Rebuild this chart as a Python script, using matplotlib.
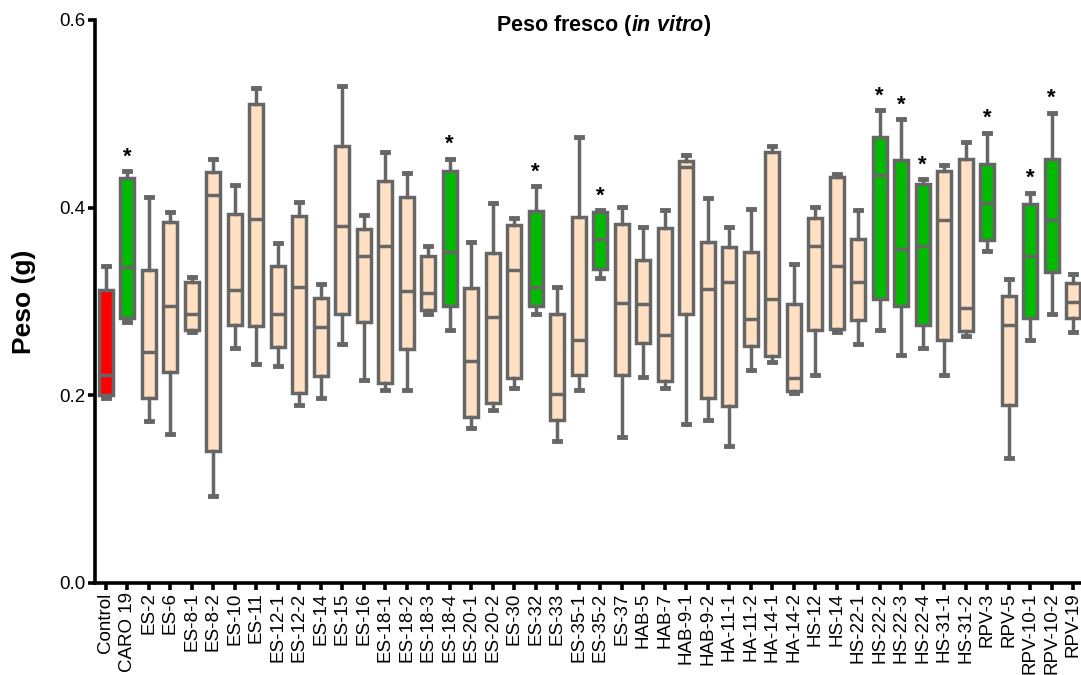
import matplotlib
matplotlib.use("Agg")
import matplotlib.pyplot as plt

# Peso fresco (in vitro) - boxplots per treatment

plt.rcParams['font.family'] = ['Liberation Sans', 'DejaVu Sans']
plt.rcParams['mathtext.fontset'] = 'custom'
plt.rcParams['mathtext.it'] = 'Liberation Sans:italic:bold'
plt.rcParams['mathtext.rm'] = 'Liberation Sans:bold'

labels = ["Control", "CARO 19", "ES-2", "ES-6", "ES-8-1", "ES-8-2", "ES-10", "ES-11",
          "ES-12-1", "ES-12-2", "ES-14", "ES-15", "ES-16", "ES-18-1", "ES-18-2",
          "ES-18-3", "ES-18-4", "ES-20-1", "ES-20-2", "ES-30", "ES-32", "ES-33",
          "ES-35-1", "ES-35-2", "ES-37", "HAB-5", "HAB-7", "HAB-9-1", "HAB-9-2",
          "HA-11-1", "HA-11-2", "HA-14-1", "HA-14-2", "HS-12", "HS-14", "HS-22-1",
          "HS-22-2", "HS-22-3", "HS-22-4", "HS-31-1", "HS-31-2", "RPV-3", "RPV-5",
          "RPV-10-1", "RPV-10-2", "RPV-19"]

whis_hi = [0.338, 0.439, 0.411, 0.395, 0.326, 0.452, 0.424, 0.528, 0.362, 0.406,
           0.319, 0.530, 0.392, 0.459, 0.437, 0.359, 0.452, 0.363, 0.405, 0.389,
           0.423, 0.315, 0.475, 0.397, 0.401, 0.379, 0.397, 0.456, 0.410, 0.379,
           0.399, 0.466, 0.340, 0.401, 0.436, 0.397, 0.504, 0.494, 0.430, 0.445,
           0.470, 0.480, 0.324, 0.416, 0.501, 0.329]
q3 = [0.312, 0.431, 0.333, 0.385, 0.321, 0.438, 0.393, 0.510, 0.338, 0.391,
      0.304, 0.466, 0.377, 0.428, 0.411, 0.348, 0.439, 0.314, 0.352, 0.381,
      0.396, 0.287, 0.390, 0.395, 0.383, 0.344, 0.378, 0.450, 0.363, 0.358,
      0.353, 0.459, 0.297, 0.389, 0.433, 0.367, 0.475, 0.451, 0.425, 0.439,
      0.452, 0.446, 0.306, 0.404, 0.452, 0.320]
median = [0.222, 0.337, 0.246, 0.295, 0.286, 0.413, 0.312, 0.388, 0.286, 0.315,
          0.273, 0.380, 0.348, 0.359, 0.311, 0.309, 0.353, 0.236, 0.283, 0.333,
          0.315, 0.201, 0.259, 0.366, 0.298, 0.297, 0.264, 0.443, 0.313, 0.321,
          0.281, 0.302, 0.218, 0.359, 0.338, 0.321, 0.435, 0.356, 0.359, 0.387,
          0.293, 0.405, 0.275, 0.348, 0.387, 0.299]
q1 = [0.200, 0.282, 0.197, 0.225, 0.269, 0.140, 0.275, 0.274, 0.251, 0.202,
      0.220, 0.286, 0.278, 0.213, 0.249, 0.291, 0.295, 0.177, 0.192, 0.218,
      0.295, 0.173, 0.221, 0.335, 0.221, 0.256, 0.215, 0.286, 0.197, 0.188,
      0.252, 0.242, 0.204, 0.269, 0.271, 0.280, 0.303, 0.295, 0.275, 0.259,
      0.268, 0.365, 0.189, 0.282, 0.331, 0.282]
whis_lo = [0.197, 0.278, 0.172, 0.159, 0.267, 0.092, 0.250, 0.233, 0.231, 0.189,
           0.197, 0.254, 0.216, 0.206, 0.206, 0.287, 0.269, 0.165, 0.184, 0.208,
           0.286, 0.151, 0.206, 0.325, 0.155, 0.219, 0.208, 0.169, 0.174, 0.146,
           0.227, 0.235, 0.202, 0.222, 0.267, 0.254, 0.269, 0.243, 0.250, 0.221,
           0.263, 0.354, 0.133, 0.259, 0.286, 0.267]

# significant treatments (marked with *)
significant = ["CARO 19", "ES-18-4", "ES-32", "ES-35-2", "HS-22-2", "HS-22-3",
               "HS-22-4", "RPV-3", "RPV-10-1", "RPV-10-2"]

edge = "#666666"
peach = "#FFE0C2"
green = "#00BB00"
red = "#FF0000"

stats = []
for i, name in enumerate(labels):
    stats.append({"label": name, "med": median[i], "q1": q1[i], "q3": q3[i],
                  "whislo": whis_lo[i], "whishi": whis_hi[i], "fliers": []})

fig = plt.figure(figsize=(10.81, 6.75), dpi=100)
ax = fig.add_axes([95 / 1081, 92.3 / 675, 989 / 1081, 562.7 / 675])

lw = 2.5
bp = ax.bxp(stats, positions=range(len(labels)), widths=0.64, capwidths=0.3,
            patch_artist=True, showfliers=False,
            boxprops=dict(edgecolor=edge, linewidth=lw),
            medianprops=dict(color=edge, linewidth=lw),
            whiskerprops=dict(color=edge, linewidth=lw),
            capprops=dict(color=edge, linewidth=lw + 1))

for i, box in enumerate(bp["boxes"]):
    if labels[i] == "Control":
        box.set_facecolor(red)
    elif labels[i] in significant:
        box.set_facecolor(green)
    else:
        box.set_facecolor(peach)

for i, name in enumerate(labels):
    if name in significant:
        ax.text(i, whis_hi[i] + 0.004, "*", ha="center", va="bottom",
                fontsize=16, fontweight="bold", color="black")

ax.set_xlim(-0.5, 45.5)
ax.set_ylim(0, 0.6)
ax.set_yticks([0.0, 0.2, 0.4, 0.6])
ax.set_yticklabels(["0.0", "0.2", "0.4", "0.6"])
ax.set_xticks(range(len(labels)))
ax.set_xticklabels(labels, rotation=90)

for side in ["top", "right"]:
    ax.spines[side].set_visible(False)
for side in ["left", "bottom"]:
    ax.spines[side].set_linewidth(2.6)
    ax.spines[side].set_color("black")
ax.tick_params(axis="both", width=2.6, length=5, labelsize=13.5, colors="black", pad=2)

ax.set_ylabel("Peso (g)", fontsize=19, fontweight="bold")
ax.yaxis.set_label_coords((36 - 95) / 989, 0.5)
fig.text(604 / 1081, 1 - 25 / 675, r"Peso fresco ($\mathit{in\ vitro}$)",
         ha="center", va="center", fontsize=15.5, fontweight="bold")

fig.savefig("out.png", dpi=100)
